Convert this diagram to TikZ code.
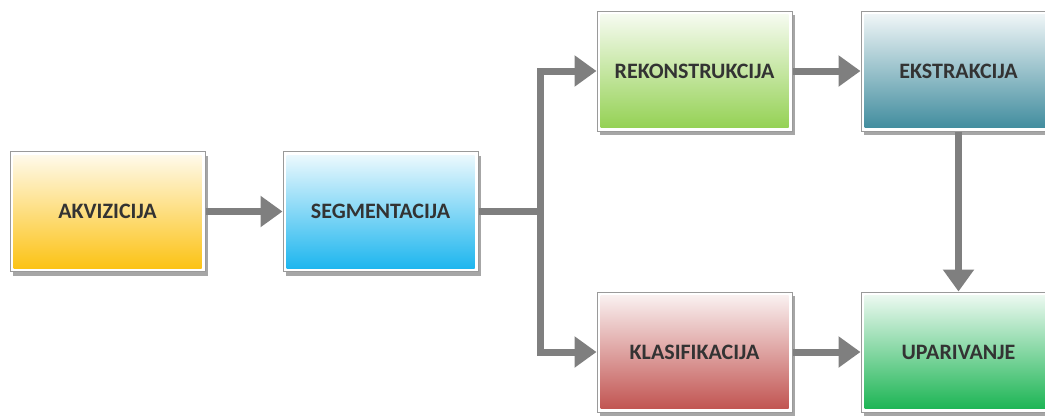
\documentclass[tikz,border=0pt]{standalone}
\usepackage{fontspec}
\setmainfont{Carlito}
\usetikzlibrary{arrows.meta,shadows}
\definecolor{txt}{HTML}{333333}
\definecolor{arrgray}{HTML}{7F7F7F}
\definecolor{frame}{HTML}{9A9A9A}
\definecolor{cakv}{HTML}{FCC10F}
\definecolor{cseg}{HTML}{18B4EE}
\definecolor{crek}{HTML}{92D050}
\definecolor{ceks}{HTML}{3D8A9C}
\definecolor{ckla}{HTML}{C0504D}
\definecolor{cupa}{HTML}{17B350}
\tikzset{
  stage/.style={
    draw=frame, line width=1pt, fill=white,
    minimum width=195pt, minimum height=120pt,
    inner sep=0pt, text=txt,
    font=\fontsize{22}{24}\selectfont\bfseries,
    drop shadow={shadow xshift=3pt, shadow yshift=-4pt, fill=black, opacity=0.35},
    path picture={
      \shade[top color=#1!6, middle color=#1!45, bottom color=#1]
        ([shift={(3.5pt,-3.5pt)}]path picture bounding box.north west)
        rectangle ([shift={(-3.5pt,3.5pt)}]path picture bounding box.south east);
    }
  },
  flow/.style={
    draw=arrgray, line width=7pt, line join=miter,
    -{Triangle[length=22pt,width=30pt]}
  },
  flowline/.style={draw=arrgray, line width=7pt, line join=miter}
}
\begin{document}
\begin{tikzpicture}[x=1pt,y=-1pt]
  \useasboundingbox (0,0) rectangle (1045,416);
  \clip (0,0) rectangle (1045,416);

  \node[stage=cakv] (akv) at (107.5,211.5) {AKVIZICIJA};
  \node[stage=cseg] (seg) at (380.5,211.5) {SEGMENTACIJA};
  \node[stage=crek] (rek) at (694.5,71) {REKONSTRUKCIJA};
  \node[stage=ceks] (eks) at (958.5,71) {EKSTRAKCIJA};
  \node[stage=ckla] (kla) at (694.5,352) {KLASIFIKACIJA};
  \node[stage=cupa] (upa) at (958.5,352) {UPARIVANJE};

  \coordinate (branch) at (540,211.5);

  \draw[flow] (akv.east) -- (seg.west);
  \draw[flowline] (seg.east) -- (branch);
  \draw[flow] (branch) |- (rek.west);
  \draw[flow] (branch) |- (kla.west);
  \draw[flow] (rek.east) -- (eks.west);
  \draw[flow] (kla.east) -- (upa.west);
  \draw[flow] (eks.south) -- (upa.north);
\end{tikzpicture}
\end{document}
